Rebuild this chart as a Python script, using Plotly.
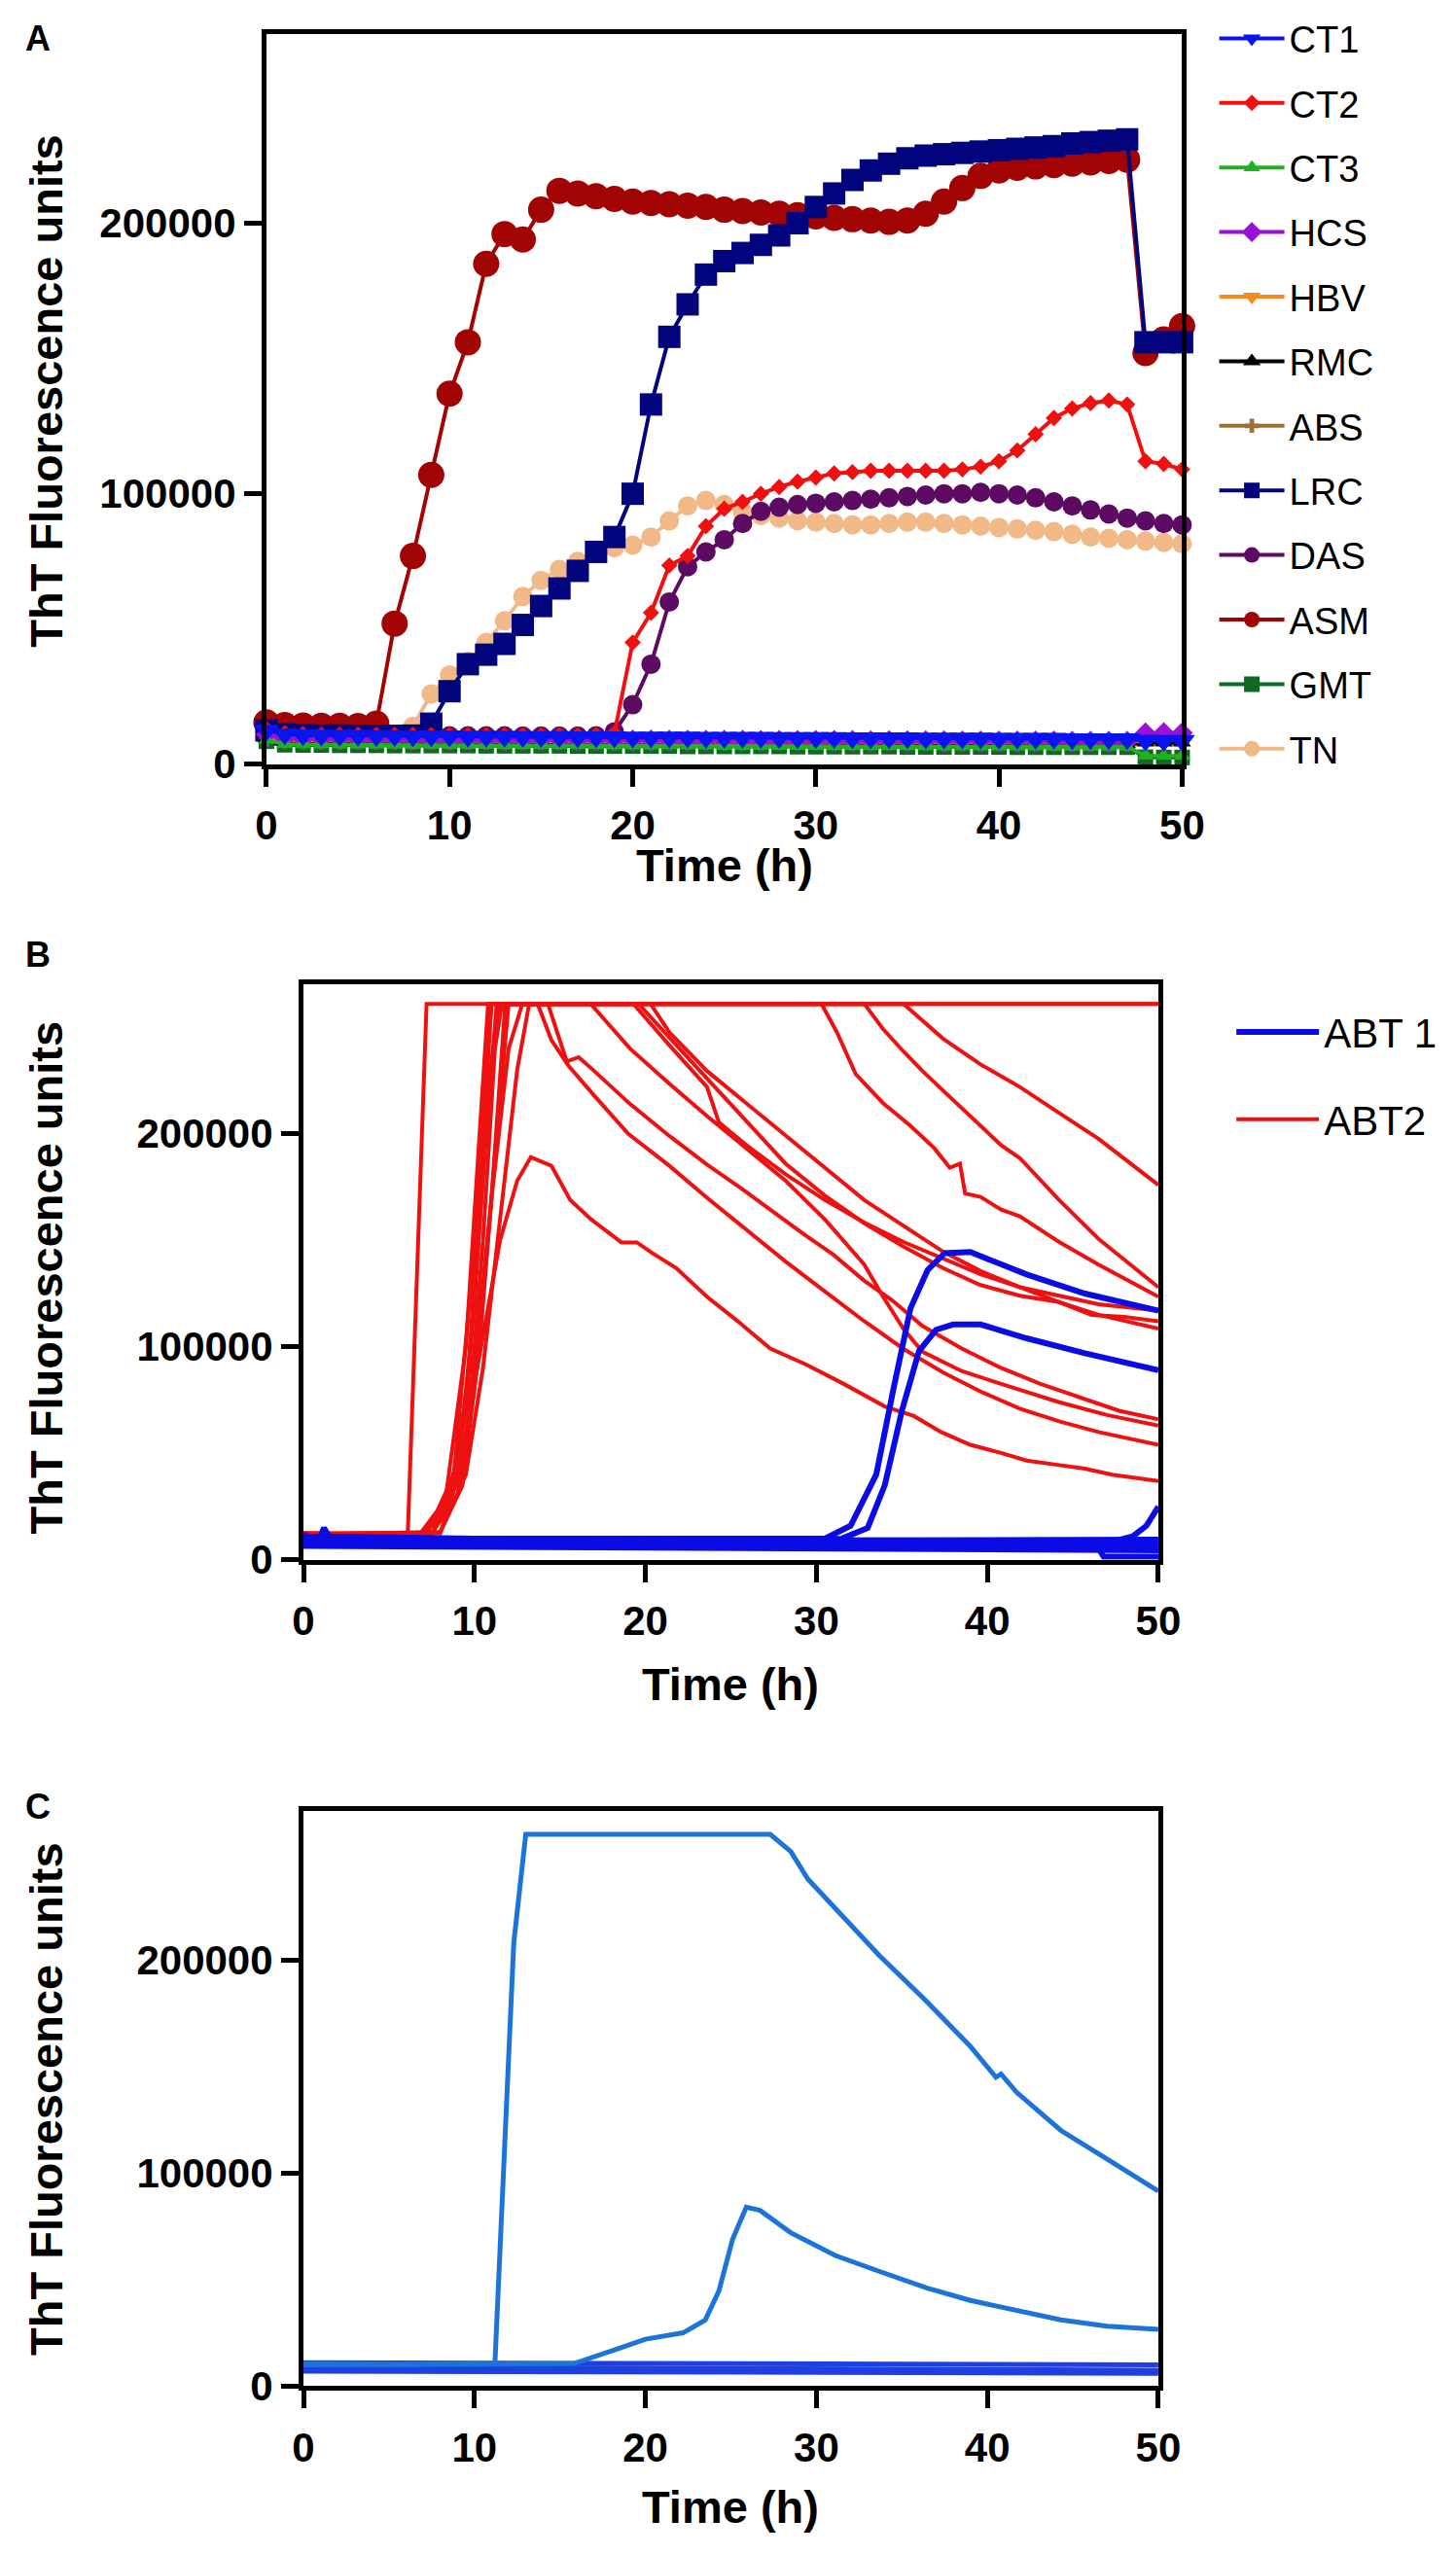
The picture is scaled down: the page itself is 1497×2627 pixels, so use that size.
import plotly.graph_objects as go

# ---------------- Panel A: hourly ThT readings (0..50 h) ----------------
TIME_A = [0, 1, 2, 3, 4, 5, 6, 7, 8, 9,
          10, 11, 12, 13, 14, 15, 16, 17, 18, 19,
          20, 21, 22, 23, 24, 25, 26, 27, 28, 29,
          30, 31, 32, 33, 34, 35, 36, 37, 38, 39,
          40, 41, 42, 43, 44, 45, 46, 47, 48, 49,
          50]

CT1 = [12500, 11200, 10800, 10700, 10600, 10600, 10500, 10500, 10400, 10400,
       10400, 10300, 10300, 10300, 10200, 10200, 10200, 10100, 10100, 10100,
       10000, 10000, 10000, 10000, 9900, 9900, 9900, 9900, 9800, 9800,
       9800, 9800, 9700, 9700, 9700, 9700, 9600, 9600, 9600, 9600,
       9500, 9500, 9500, 9500, 9400, 9400, 9400, 9400, 8800, 8700,
       8700]
CT2 = [13000, 11500, 11200, 11000, 11000, 11000, 10900, 10900, 10900, 10800,
       10800, 10800, 10800, 10700, 10700, 10700, 10700, 10700, 10800, 11500,
       45000, 56000, 73500, 77000, 88000, 94500, 97000, 100000, 102500, 104500,
       106000, 107500, 108000, 108500, 108500, 108500, 108500, 108500, 109000, 110000,
       112000, 116000, 122000, 128000, 131500, 133500, 134500, 133000, 112000, 111000,
       109000]
CT3 = [9000, 7400, 7300, 7200, 7200, 7100, 7100, 7100, 7000, 7000,
       7000, 7000, 7000, 6900, 6900, 6900, 6900, 6900, 6900, 6800,
       6800, 6800, 6800, 6800, 6800, 6700, 6700, 6700, 6700, 6700,
       6700, 6600, 6600, 6600, 6600, 6600, 6600, 6500, 6500, 6500,
       6500, 6500, 6500, 6400, 6400, 6400, 6400, 6400, 3200, 3100,
       3100]
HCS = [11000, 9500, 9400, 9300, 9300, 9200, 9200, 9200, 9100, 9100,
       9100, 9100, 9000, 9000, 9000, 9000, 9000, 8900, 8900, 8900,
       8900, 8900, 8800, 8800, 8800, 8800, 8800, 8700, 8700, 8700,
       8700, 8700, 8700, 8600, 8600, 8600, 8600, 8600, 8500, 8500,
       8500, 8500, 8500, 8500, 8400, 8400, 8400, 8400, 11500, 11600,
       11600]
HBV = [10000, 9000, 8900, 8900, 8800, 8800, 8800, 8700, 8700, 8700,
       8700, 8600, 8600, 8600, 8600, 8600, 8500, 8500, 8500, 8500,
       8500, 8500, 8400, 8400, 8400, 8400, 8400, 8400, 8300, 8300,
       8300, 8300, 8300, 8300, 8200, 8200, 8200, 8200, 8200, 8200,
       8100, 8100, 8100, 8100, 8100, 8100, 8000, 8000, 9000, 9000,
       9000]
RMC = [9500, 8500, 8400, 8400, 8300, 8300, 8300, 8300, 8200, 8200,
       8200, 8200, 8200, 8100, 8100, 8100, 8100, 8100, 8000, 8000,
       8000, 8000, 8000, 8000, 7900, 7900, 7900, 7900, 7900, 7900,
       7800, 7800, 7800, 7800, 7800, 7800, 7700, 7700, 7700, 7700,
       7700, 7700, 7600, 7600, 7600, 7600, 7600, 7600, 8000, 8000,
       8000]
ABS = [9200, 8200, 8100, 8100, 8000, 8000, 8000, 8000, 7900, 7900,
       7900, 7900, 7900, 7800, 7800, 7800, 7800, 7800, 7800, 7700,
       7700, 7700, 7700, 7700, 7700, 7600, 7600, 7600, 7600, 7600,
       7600, 7500, 7500, 7500, 7500, 7500, 7500, 7400, 7400, 7400,
       7400, 7400, 7400, 7400, 7300, 7300, 7300, 7300, 7600, 7600,
       7600]
LRC = [12500, 11000, 10700, 10600, 10600, 10500, 10500, 10500, 10600, 15000,
       27000, 37000, 40500, 44500, 51500, 58500, 65000, 71500, 78500, 84000,
       100000, 133000, 158000, 170000, 181000, 186000, 189000, 192000, 195500, 200000,
       206000, 211000, 216000, 219500, 222000, 224000, 225000, 225500, 226000, 226500,
       227000, 227500, 228000, 228500, 229500, 230000, 230500, 231000, 156000, 156000,
       156000]
DAS = [12000, 11000, 10800, 10700, 10700, 10600, 10600, 10600, 10500, 10500,
       10500, 10500, 10500, 10500, 10400, 10400, 10400, 10400, 10500, 12000,
       22000, 37000, 60000, 73000, 78500, 83000, 89000, 93500, 95000, 96000,
       96500, 97000, 97500, 98000, 98500, 99000, 99500, 100000, 100000, 100500,
       100000, 99500, 98500, 97000, 95500, 94000, 92500, 91000, 90000, 89000,
       88500]
ASM = [15500, 14500, 14300, 14200, 14200, 14100, 15000, 52000, 77000, 107000,
       137000, 156000, 185000, 196000, 194000, 205000, 212000, 211000, 210000, 209000,
       208000, 207500, 207000, 206500, 206000, 205000, 204500, 204000, 203500, 203000,
       202500, 202000, 201500, 201000, 200500, 201000, 203500, 208000, 213000, 217500,
       219500, 220500, 221000, 221500, 222000, 222500, 223000, 223500, 152000, 157000,
       162000]
GMT = [8500, 7200, 7100, 7100, 7000, 7000, 7000, 6900, 6900, 6900,
       6900, 6900, 6800, 6800, 6800, 6800, 6800, 6700, 6700, 6700,
       6700, 6700, 6700, 6600, 6600, 6600, 6600, 6600, 6600, 6500,
       6500, 6500, 6500, 6500, 6500, 6400, 6400, 6400, 6400, 6400,
       6400, 6300, 6300, 6300, 6300, 6300, 6300, 6300, 2600, 2500,
       2500]
TN = [11000, 10500, 10400, 10400, 10300, 10300, 10300, 10200, 14000, 26000,
      33000, 38000, 45000, 53000, 62000, 68000, 72000, 75000, 78000, 80000,
      81000, 84000, 90000, 95500, 97500, 96000, 93500, 92000, 91000, 90000,
      89500, 89000, 88500, 88500, 89000, 89500, 89500, 89000, 88500, 88000,
      87500, 87000, 86500, 86000, 85000, 84000, 83500, 83000, 82500, 82000,
      81500]

SERIES_A = ["CT1", "CT2", "CT3", "HCS", "HBV", "RMC", "ABS", "LRC", "DAS", "ASM", "GMT", "TN"]
VALUES_A = [CT1, CT2, CT3, HCS, HBV, RMC, ABS, LRC, DAS, ASM, GMT, TN]
COLORS_A = ["#0a14f0", "#f01010", "#22b022", "#9a10d8", "#f58a1e", "#000000",
            "#9c7232", "#02047e", "#5c0a62", "#a20404", "#0e6a22", "#f0b987"]
SYMBOLS_A = ["triangle-down", "diamond", "triangle-up", "diamond", "triangle-down", "triangle-up",
             "cross", "square", "circle", "circle", "square", "circle"]
SIZES_A = [23, 13, 15, 17, 16, 16, 12, 23, 20, 27, 16, 20]

# ---------------- Panel B: individual wells, (time h, ThT units) ----------------
ABT2_SAT1 = [(0, 12500), (3, 12000), (6.1, 11800), (7.2, 261000), (50, 261000)]
ABT2_SAT2 = [(0, 12000), (7, 11500), (8.5, 25000), (9.5, 70000), (10.3, 170000), (11, 261000), (50, 261000)]
ABT2_L0 = [(0, 12000), (7.5, 12500), (8.5, 25000), (9.5, 60000), (10.5, 105000), (11.5, 150000),
           (12.5, 178000), (13.3, 189000), (14.5, 185000), (15.6, 169000), (16.8, 160000),
           (18.6, 149000), (19.5, 149000), (20.4, 144000), (21.8, 137000), (23.6, 123500),
           (25.5, 111400), (27.3, 99200), (29.4, 91700), (31.6, 82600), (34, 72000), (35.7, 67500),
           (37.3, 60000), (39, 54000), (40.7, 50400), (42.3, 46600), (44, 44700), (45.7, 42800),
           (47.3, 40000), (50, 37000)]
ABT2_L1 = [(0, 12000), (8, 13000), (9.5, 40000), (10.5, 90000), (11.5, 160000), (12.5, 230000),
           (13.2, 261000), (13.7, 261000), (14.5, 244000), (15.5, 232000), (17, 218000),
           (19, 200000), (21.4, 185000), (23.6, 170000), (25.9, 155000), (28.2, 140000),
           (30.5, 126000), (32.8, 112000), (35.1, 99000), (37.4, 88000), (39.6, 79000),
           (41.9, 71000), (44.2, 65000), (46.5, 60000), (50, 54000)]
ABT2_L2 = [(0, 12500), (7, 12500), (8.5, 30000), (10, 90000), (11, 170000), (12, 240000),
           (12.8, 261000), (14.3, 261000), (15.4, 234000), (16.1, 236000), (16.8, 231000),
           (19.1, 214000), (21.4, 199000), (23.6, 185600), (25.5, 175000), (27.3, 164400),
           (29.1, 153800), (31, 143200), (32.8, 131000), (34.4, 122000), (36.2, 109800),
           (38.5, 99200), (40.8, 90100), (43.1, 82600), (45.4, 76500), (47.7, 70000), (50, 66000)]
ABT2_L3 = [(0, 12000), (8, 13000), (9.3, 35000), (10.3, 100000), (11.2, 190000), (12, 261000),
           (16.8, 261000), (19.1, 240000), (21.4, 223500), (23.6, 208300), (25.9, 193200),
           (28.2, 178000), (30.5, 159800), (32.8, 138600), (33.9, 123500), (35.1, 108300),
           (36.2, 97700), (38.5, 88600), (40.8, 82600), (44.2, 74000), (47, 68000), (50, 63000)]
ABT2_L4 = [(0, 12000), (7.5, 12500), (9, 30000), (10, 80000), (11, 170000), (11.8, 261000),
           (19.3, 261000), (21.4, 241600), (23.6, 222000), (24.3, 205300), (25.9, 194700),
           (28.2, 181000), (30.5, 168900), (32.8, 158300), (35.1, 149200), (37.4, 141600),
           (39.6, 134100), (41.9, 128000), (44.2, 124000), (46.5, 120000), (50, 117000)]
ABT2_L5 = [(0, 11500), (7, 12000), (8.7, 30000), (9.7, 90000), (10.6, 190000), (11.3, 261000),
           (19.6, 261000), (21.4, 245000), (23.6, 226000), (25.9, 206000), (28.2, 186000),
           (30.5, 171000), (32.8, 158000), (35.1, 147000), (37.4, 137000), (39.6, 129000),
           (41.9, 124000), (44.2, 121000), (46.1, 115000), (48, 114000), (50, 112000)]
ABT2_L6 = [(0, 12000), (6.8, 12000), (8.3, 28000), (9.5, 100000), (10.3, 200000), (10.8, 261000),
           (20.3, 261000), (21.4, 247700), (23.6, 229500), (25.9, 214400), (28.2, 199200),
           (30.5, 184100), (32.8, 168900), (35.1, 156800), (37.4, 144700), (39.6, 135600),
           (41.9, 128000), (44.2, 121000), (46.5, 115000), (50, 108500)]
ABT2_L7 = [(0, 12500), (7.5, 12000), (9, 40000), (10, 120000), (10.8, 220000), (11.4, 261000),
           (30.3, 261000), (31.2, 247700), (32.3, 228000), (33.9, 214400), (35.5, 203800),
           (36.9, 193200), (37.8, 184100), (38.4, 186000), (38.7, 172000), (39.6, 170400),
           (40.8, 164400), (41.9, 161300), (44.2, 149200), (46.5, 138600), (50, 123500)]
ABT2_L8 = [(0, 12000), (8, 12500), (9.5, 50000), (10.5, 150000), (11.2, 240000), (11.6, 261000),
           (32.8, 261000), (33.9, 249200), (35.1, 238600), (36.2, 229500), (37.4, 220400),
           (39.6, 203800), (40.8, 194700), (41.9, 188600), (44.2, 168900), (46.5, 150700),
           (50, 128000)]
ABT2_L9 = [(0, 12000), (7.2, 12000), (8.8, 40000), (9.8, 130000), (10.6, 230000), (11, 261000),
           (35.1, 261000), (37.4, 244700), (39.6, 232600), (41.9, 222000), (44.2, 209800),
           (46.5, 197700), (50, 176000)]

ABT1_W1 = [(0, 10500), (1, 11000), (1.2, 15000), (1.5, 11000), (10, 10000), (20, 9800),
           (30.5, 10000), (32, 16000), (33.5, 40000), (34.5, 80000), (35.5, 118000),
           (36.5, 136000), (37.5, 144000), (39, 144500), (40.7, 139000), (42.3, 134000),
           (45.7, 125000), (50, 117000)]
ABT1_W2 = [(0, 10000), (10, 9600), (20, 9400), (31.5, 10000), (33, 15000), (34, 35000),
           (35, 70000), (36, 98000), (37, 108000), (38, 110500), (39.6, 110500),
           (42.3, 104000), (45.7, 97000), (50, 89000)]
ABT1_W3 = [(0, 9500), (20, 9000), (47.5, 9000), (48.5, 11000), (49.3, 16000), (50, 25000)]
ABT1_W4 = [(0, 9000), (20, 8500), (46.3, 8000), (46.8, 1500), (50, 1500)]
ABT1_W5 = [(0, 8500), (10, 8000), (30, 7500), (50, 7000)]
ABT1_W6 = [(0, 12000), (0.5, 10000), (10, 9500), (30, 9000), (50, 9500)]
ABT1_W7 = [(0, 6500), (25, 5500), (50, 4500)]

ABT2_WELLS = [ABT2_SAT1, ABT2_SAT2, ABT2_L0, ABT2_L1, ABT2_L2, ABT2_L3, ABT2_L4,
              ABT2_L5, ABT2_L6, ABT2_L7, ABT2_L8, ABT2_L9]
ABT1_WELLS = [ABT1_W1, ABT1_W2, ABT1_W3, ABT1_W4, ABT1_W5, ABT1_W6, ABT1_W7]

# ---------------- Panel C ----------------
C_HIGH = [(0, 10500), (5, 10200), (11, 10500), (11.2, 11000), (12.3, 208000), (13, 259000),
          (27.3, 259000), (28.5, 251000), (29.5, 238000), (31.1, 224000), (33.7, 202000),
          (36.4, 181000), (39, 159500), (40.5, 145000), (40.8, 146500), (41.7, 138000),
          (44.3, 120000), (47, 106600), (50, 91500)]
C_LOW = [(0, 10000), (10, 10200), (15.8, 10500), (18.4, 17500), (20, 22000), (22.2, 25000),
         (23.5, 31000), (24.3, 44700), (25.1, 69000), (25.9, 84000), (26.7, 82500),
         (28.5, 72000), (31.1, 61300), (33.7, 53800), (36.4, 46200), (39, 40200),
         (41.7, 35600), (44.3, 31100), (47, 28100), (50, 26600)]
C_BASE1 = [(0, 11000), (25, 10500), (50, 10000)]
C_BASE2 = [(0, 9000), (25, 8000), (50, 7500)]
C_BASE3 = [(0, 7000), (25, 6500), (50, 6000)]

Y_TICKS = [0, 100000, 200000]
Y_TICKTEXT = ["0", "100000", "200000"]
X_TICKS = [0, 10, 20, 30, 40, 50]

W, H = 1497, 2627
FONT = "Liberation Sans, Arial, sans-serif"


def fx(p):
    return p / W


def fy(p):
    return 1 - p / H


fig = go.Figure()

# Panel A - reversed so CT1 ends up on top, legend keeps CT1..TN order
for i in reversed(range(len(SERIES_A))):
    fig.add_trace(go.Scatter(
        x=TIME_A, y=VALUES_A[i], name=SERIES_A[i], mode="lines+markers",
        line=dict(color=COLORS_A[i], width=4),
        marker=dict(symbol=SYMBOLS_A[i], size=SIZES_A[i], color=COLORS_A[i]),
        legendgroup=SERIES_A[i], legendrank=i + 1, cliponaxis=False,
        xaxis="x", yaxis="y", legend="legend"))

# Panel B
for k, well in enumerate(ABT2_WELLS):
    t, v = zip(*well)
    fig.add_trace(go.Scatter(
        x=t, y=v, name="ABT2", mode="lines", line=dict(color="#ee1111", width=4),
        legendgroup="ABT2", legendrank=2, showlegend=(k == 0),
        xaxis="x2", yaxis="y2", legend="legend2"))
for k, well in enumerate(ABT1_WELLS):
    t, v = zip(*well)
    fig.add_trace(go.Scatter(
        x=t, y=v, name="ABT 1", mode="lines", line=dict(color="#0b0be6", width=6),
        legendgroup="ABT1", legendrank=1, showlegend=(k == 0),
        xaxis="x2", yaxis="y2", legend="legend2"))

# Panel C
for well, col in [(C_BASE3, "#1f3fe0"), (C_BASE2, "#1f3fe0"), (C_BASE1, "#1f3fe0"),
                  (C_LOW, "#1c74d8"), (C_HIGH, "#1c74d8")]:
    t, v = zip(*well)
    fig.add_trace(go.Scatter(x=t, y=v, mode="lines", line=dict(color=col, width=5),
                             showlegend=False, xaxis="x3", yaxis="y3"))

tickfont = dict(family=FONT, size=42, color="black", weight="bold")
common_x = dict(range=[0, 50], tickvals=X_TICKS, ticks="outside", ticklen=18,
                tickwidth=5, tickcolor="black", showline=True, linewidth=5, linecolor="black",
                mirror=True, showgrid=False, zeroline=False, tickfont=tickfont,
                ticklabelstandoff=4)
common_y = dict(range=[0, 270000], tickvals=Y_TICKS, ticktext=Y_TICKTEXT, ticks="outside",
                ticklen=18, tickwidth=5, tickcolor="black", showline=True, linewidth=5,
                linecolor="black", mirror=True, showgrid=False, zeroline=False,
                tickfont=tickfont, ticklabelstandoff=0)

fig.update_layout(
    width=W, height=H, margin=dict(l=0, r=0, t=0, b=0),
    plot_bgcolor="white", paper_bgcolor="white",
    xaxis=dict(domain=[fx(260), fx(1224)], anchor="y", **common_x),
    yaxis=dict(domain=[fy(775), fy(13)], anchor="x", **common_y),
    xaxis2=dict(domain=[fx(299), fx(1199)], anchor="y2", **common_x),
    yaxis2=dict(domain=[fy(1605), fy(1005)], anchor="x2", **common_y),
    xaxis3=dict(domain=[fx(299), fx(1199)], anchor="y3", **common_x),
    yaxis3=dict(domain=[fy(2467), fy(1867)], anchor="x3", **common_y),
    legend=dict(x=fx(1258), y=fy(-14), xanchor="left", yanchor="top",
                font=dict(family=FONT, size=38, color="black"),
                tracegroupgap=14, itemwidth=67, bgcolor="rgba(0,0,0,0)"),
    legend2=dict(x=fx(1276), y=fy(1020), xanchor="left", yanchor="top",
                 font=dict(family=FONT, size=42, color="black"),
                 tracegroupgap=32, itemwidth=85, bgcolor="rgba(0,0,0,0)"),
)

title_font = dict(family=FONT, size=47, color="black", weight="bold")
letter_font = dict(family="Liberation Sans Narrow, " + FONT, size=36, color="black", weight="bold")
annotations = []
for cy in [385, 1310, 2167]:
    annotations.append(dict(text="ThT Fluorescence units", x=fx(28), y=fy(cy), xref="paper",
                            yref="paper", showarrow=False, textangle=-90, font=title_font,
                            xanchor="center", yanchor="middle"))
for cx, cy in [(742, 880), (749, 1735), (749, 2593)]:
    annotations.append(dict(text="Time (h)", x=fx(cx), y=fy(cy), xref="paper", yref="paper",
                            showarrow=False, font=title_font, xanchor="center", yanchor="middle"))
for letter, cy in [("A", 18), ("B", 974), ("C", 1862)]:
    annotations.append(dict(text=letter, x=fx(4), y=fy(cy), xref="paper", yref="paper",
                            showarrow=False, font=letter_font, xanchor="left", yanchor="middle"))
fig.update_layout(annotations=annotations)

fig.write_html("out.html")
